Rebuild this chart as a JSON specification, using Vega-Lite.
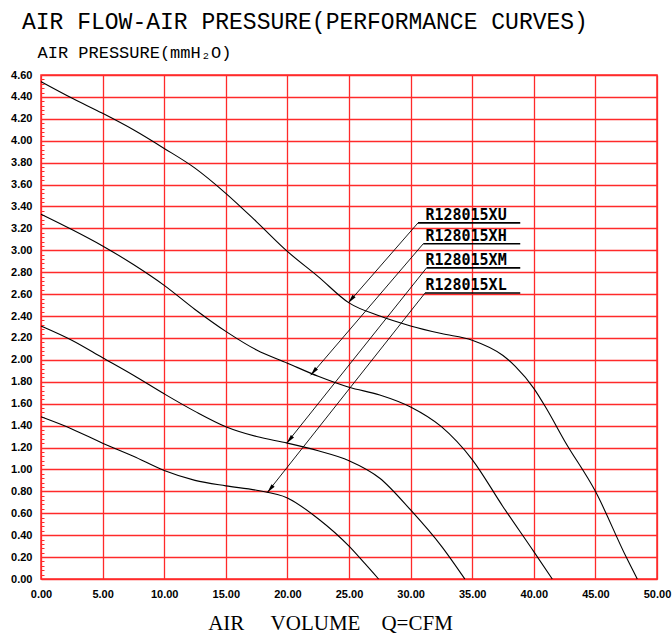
{
  "$schema": "https://vega.github.io/schema/vega-lite/v6.json",
  "width": 616,
  "height": 504,
  "autosize": "none",
  "padding": {"left": 41, "top": 75, "right": 15, "bottom": 54},
  "background": "white",
  "config": {"view": {"stroke": "#ff2a2a", "strokeWidth": 1.5}},
  "title": {
    "text": "AIR FLOW-AIR PRESSURE(PERFORMANCE CURVES)",
    "anchor": "start",
    "frame": "group",
    "font": "Liberation Mono",
    "fontSize": 23,
    "fontWeight": "normal",
    "color": "black",
    "dx": -19,
    "dy": 11,
    "offset": 20
  },
  "datasets": {
    "curves": [
      {"model": "R128015XU", "q": 0, "p": 4.54},
      {"model": "R128015XU", "q": 2.5, "p": 4.39},
      {"model": "R128015XU", "q": 5, "p": 4.25},
      {"model": "R128015XU", "q": 7.5, "p": 4.1},
      {"model": "R128015XU", "q": 10, "p": 3.93},
      {"model": "R128015XU", "q": 12.5, "p": 3.75},
      {"model": "R128015XU", "q": 15, "p": 3.52},
      {"model": "R128015XU", "q": 17.5, "p": 3.26},
      {"model": "R128015XU", "q": 20, "p": 2.99},
      {"model": "R128015XU", "q": 22.5, "p": 2.76},
      {"model": "R128015XU", "q": 25, "p": 2.52},
      {"model": "R128015XU", "q": 27.5, "p": 2.4},
      {"model": "R128015XU", "q": 30, "p": 2.31},
      {"model": "R128015XU", "q": 32.5, "p": 2.24},
      {"model": "R128015XU", "q": 35, "p": 2.18},
      {"model": "R128015XU", "q": 37.5, "p": 2.04},
      {"model": "R128015XU", "q": 38.5, "p": 1.94},
      {"model": "R128015XU", "q": 40, "p": 1.74},
      {"model": "R128015XU", "q": 41, "p": 1.56},
      {"model": "R128015XU", "q": 42.5, "p": 1.26},
      {"model": "R128015XU", "q": 45, "p": 0.8},
      {"model": "R128015XU", "q": 47.5, "p": 0.2},
      {"model": "R128015XU", "q": 48.4, "p": 0},
      {"model": "R128015XH", "q": 0, "p": 3.33},
      {"model": "R128015XH", "q": 2.5, "p": 3.19},
      {"model": "R128015XH", "q": 5, "p": 3.04},
      {"model": "R128015XH", "q": 7.5, "p": 2.87},
      {"model": "R128015XH", "q": 10, "p": 2.68},
      {"model": "R128015XH", "q": 12.5, "p": 2.46},
      {"model": "R128015XH", "q": 15, "p": 2.26},
      {"model": "R128015XH", "q": 17.5, "p": 2.09},
      {"model": "R128015XH", "q": 20, "p": 1.97},
      {"model": "R128015XH", "q": 22.5, "p": 1.85},
      {"model": "R128015XH", "q": 25, "p": 1.75},
      {"model": "R128015XH", "q": 27.5, "p": 1.68},
      {"model": "R128015XH", "q": 30, "p": 1.57},
      {"model": "R128015XH", "q": 32.5, "p": 1.39},
      {"model": "R128015XH", "q": 35, "p": 1.09},
      {"model": "R128015XH", "q": 37.5, "p": 0.66},
      {"model": "R128015XH", "q": 40, "p": 0.25},
      {"model": "R128015XH", "q": 41.5, "p": 0},
      {"model": "R128015XM", "q": 0, "p": 2.31},
      {"model": "R128015XM", "q": 2.5, "p": 2.18},
      {"model": "R128015XM", "q": 5, "p": 2.02},
      {"model": "R128015XM", "q": 7.5, "p": 1.86},
      {"model": "R128015XM", "q": 10, "p": 1.69},
      {"model": "R128015XM", "q": 12.5, "p": 1.53},
      {"model": "R128015XM", "q": 15, "p": 1.39},
      {"model": "R128015XM", "q": 17.5, "p": 1.3},
      {"model": "R128015XM", "q": 20, "p": 1.24},
      {"model": "R128015XM", "q": 22.5, "p": 1.17},
      {"model": "R128015XM", "q": 25, "p": 1.08},
      {"model": "R128015XM", "q": 27.5, "p": 0.92},
      {"model": "R128015XM", "q": 30, "p": 0.63},
      {"model": "R128015XM", "q": 32.5, "p": 0.3},
      {"model": "R128015XM", "q": 34.4, "p": 0},
      {"model": "R128015XL", "q": 0, "p": 1.48},
      {"model": "R128015XL", "q": 2.5, "p": 1.37},
      {"model": "R128015XL", "q": 5, "p": 1.24},
      {"model": "R128015XL", "q": 7.5, "p": 1.12},
      {"model": "R128015XL", "q": 10, "p": 0.99},
      {"model": "R128015XL", "q": 12.5, "p": 0.9},
      {"model": "R128015XL", "q": 15, "p": 0.85},
      {"model": "R128015XL", "q": 17.5, "p": 0.81},
      {"model": "R128015XL", "q": 20, "p": 0.74},
      {"model": "R128015XL", "q": 22.5, "p": 0.55},
      {"model": "R128015XL", "q": 25, "p": 0.3},
      {"model": "R128015XL", "q": 26.3, "p": 0.14},
      {"model": "R128015XL", "q": 27.4, "p": 0}
    ],
    "leaders": [
      {"model": "R128015XU", "x0": 30.6, "y0": 3.25, "x1": 24.94, "y1": 2.52},
      {"model": "R128015XH", "x0": 31.03, "y0": 3.06, "x1": 21.89, "y1": 1.86},
      {"model": "R128015XM", "x0": 31.3, "y0": 2.84, "x1": 19.94, "y1": 1.24},
      {"model": "R128015XL", "x0": 31.17, "y0": 2.61, "x1": 18.37, "y1": 0.79}
    ]
  },
  "layer": [
    {
      "data": {"name": "curves"},
      "mark": {"type": "line", "color": "black", "strokeWidth": 1.1, "interpolate": "monotone"},
      "encoding": {
        "x": {
          "field": "q", "type": "quantitative",
          "scale": {"domain": [0, 50], "nice": false, "zero": false},
          "axis": {
            "values": [0, 5, 10, 15, 20, 25, 30, 35, 40, 45, 50],
            "tickCount": 50,
            "format": ".2f",
            "grid": true, "gridColor": "#ff2a2a", "gridWidth": 1.3, "gridOpacity": 1,
            "tickSize": 0, "domain": false,
            "labelFont": "Liberation Sans", "labelFontSize": 11, "labelFontWeight": "bold", "labelColor": "black",
            "labelPadding": 9, "labelFlush": false, "labelOverlap": false,
            "title": "AIR\u00a0\u00a0\u00a0\u00a0\u00a0VOLUME\u00a0\u00a0\u00a0\u00a0Q=CFM",
            "titleFont": "Liberation Serif", "titleFontSize": 21, "titleFontWeight": "normal", "titleColor": "black",
            "titleX": 289, "titleY": 50, "titleAlign": "center", "titleBaseline": "alphabetic"
          }
        },
        "y": {
          "field": "p", "type": "quantitative",
          "scale": {"domain": [0, 4.6], "nice": false, "zero": false},
          "axis": {
            "values": [0, 0.04, 0.08, 0.12, 0.16, 0.2, 0.24, 0.28, 0.32, 0.36, 0.4, 0.44, 0.48, 0.52, 0.56, 0.6, 0.64, 0.68, 0.72, 0.76, 0.8, 0.84, 0.88, 0.92, 0.96, 1, 1.04, 1.08, 1.12, 1.16, 1.2, 1.24, 1.28, 1.32, 1.36, 1.4, 1.44, 1.48, 1.52, 1.56, 1.6, 1.64, 1.68, 1.72, 1.76, 1.8, 1.84, 1.88, 1.92, 1.96, 2, 2.04, 2.08, 2.12, 2.16, 2.2, 2.24, 2.28, 2.32, 2.36, 2.4, 2.44, 2.48, 2.52, 2.56, 2.6, 2.64, 2.68, 2.72, 2.76, 2.8, 2.84, 2.88, 2.92, 2.96, 3, 3.04, 3.08, 3.12, 3.16, 3.2, 3.24, 3.28, 3.32, 3.36, 3.4, 3.44, 3.48, 3.52, 3.56, 3.6, 3.64, 3.68, 3.72, 3.76, 3.8, 3.84, 3.88, 3.92, 3.96, 4, 4.04, 4.08, 4.12, 4.16, 4.2, 4.24, 4.28, 4.32, 4.36, 4.4, 4.44, 4.48, 4.52, 4.56, 4.6],
            "tickCount": 300,
            "format": ".2f",
            "labelExpr": "abs(datum.value * 5 - round(datum.value * 5)) < 0.001 ? datum.label : ''",
            "labelOverlap": false, "labelBound": false,
            "labelFont": "Liberation Sans", "labelFontSize": 11, "labelFontWeight": "bold", "labelColor": "black",
            "labelPadding": 12,
            "tickColor": "#ff2a2a", "tickSize": -3, "tickWidth": 1,
            "grid": true, "gridColor": "#ff2a2a", "gridWidth": 1.3,
            "gridOpacity": {"condition": {"test": "abs(datum.value * 5 - round(datum.value * 5)) < 0.001", "value": 1}, "value": 0},
            "domain": false,
            "title": "AIR PRESSURE(mmH₂O)",
            "titleAngle": 0, "titleAlign": "left", "titleBaseline": "alphabetic",
            "titleX": -4, "titleY": -18,
            "titleFont": "Liberation Mono", "titleFontSize": 17, "titleFontWeight": "normal", "titleColor": "black"
          }
        },
        "detail": {"field": "model"}
      }
    },
    {
      "data": {"name": "leaders"},
      "mark": {"type": "rule", "color": "black", "strokeWidth": 0.9},
      "encoding": {
        "x": {"field": "x0", "type": "quantitative"},
        "y": {"field": "y0", "type": "quantitative"},
        "x2": {"field": "x1"},
        "y2": {"field": "y1"}
      }
    },
    {
      "data": {"name": "leaders"},
      "mark": {"type": "rule", "color": "black", "strokeWidth": 1.6},
      "encoding": {
        "x": {"field": "x0", "type": "quantitative"},
        "x2": {"datum": 38.9},
        "y": {"field": "y0", "type": "quantitative"}
      }
    },
    {
      "data": {"name": "leaders"},
      "mark": {"type": "text", "align": "left", "baseline": "alphabetic", "dy": -3, "font": "DejaVu Sans Mono", "fontSize": 15, "fontWeight": "bold", "color": "black"},
      "encoding": {
        "x": {"datum": 31.2, "type": "quantitative"},
        "y": {"field": "y0", "type": "quantitative"},
        "text": {"field": "model"}
      }
    },
    {
      "data": {"name": "leaders"},
      "mark": {"type": "point", "shape": "M0,0L0.45,2L-0.45,2Z", "filled": true, "color": "black", "opacity": 1, "size": 81, "angle": 220},
      "encoding": {
        "x": {"field": "x1", "type": "quantitative"},
        "y": {"field": "y1", "type": "quantitative"}
      }
    }
  ]
}
